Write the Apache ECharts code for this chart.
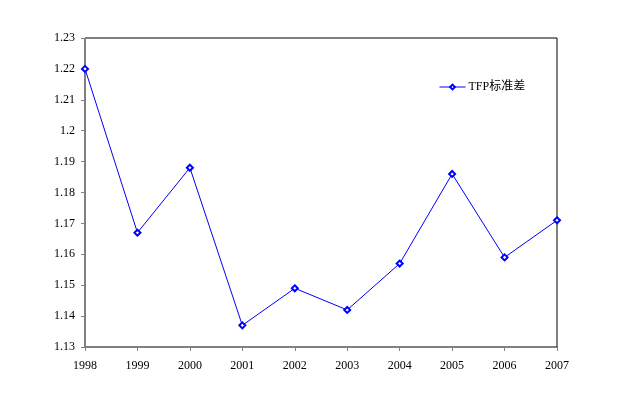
<!DOCTYPE html>
<html><head><meta charset="utf-8">
<script src="https://cdn.jsdelivr.net/npm/echarts@6/dist/echarts.min.js"></script>
<style>html,body{margin:0;padding:0;background:#fff}#c{width:626px;height:406px}</style>
</head><body><div id="c"></div>
<script>
var years = ['1998','1999','2000','2001','2002','2003','2004','2005','2006','2007'];
var tfpStd = [1.22, 1.167, 1.188, 1.137, 1.149, 1.142, 1.157, 1.186, 1.159, 1.171];
var seriesName = 'TFP标准差';
var chart = echarts.init(document.getElementById('c'), null, {renderer:'canvas'});
chart.setOption({
  animation:false,
  backgroundColor:'#fff',
  grid:{left:85,right:69,top:38,bottom:59,show:true,borderColor:'#000',borderWidth:1,backgroundColor:'transparent'},
  legend:{
    show:true,left:434,top:76,itemWidth:26,itemHeight:6,itemGap:4,
    lineStyle:{width:1},
    itemStyle:{borderWidth:1},
    textStyle:{fontFamily:'"Liberation Serif", "Noto Sans CJK SC", serif',fontSize:12,color:'#000',padding:[0,0,0,-2]},
    data:[{name:seriesName}]
  },
  xAxis:{
    type:'category',data:years,boundaryGap:false,
    axisLine:{lineStyle:{color:'#808080',width:1}},
    axisTick:{show:true,alignWithLabel:true,length:4,lineStyle:{color:'#808080'}},
    axisLabel:{color:'#000',fontFamily:'"Liberation Serif", serif',fontSize:12,margin:13},
    splitLine:{show:false}
  },
  yAxis:{
    type:'value',min:1.13,max:1.23,interval:0.01,
    axisLine:{show:true,lineStyle:{color:'#808080',width:1}},
    axisTick:{show:true,length:4,lineStyle:{color:'#808080'}},
    axisLabel:{color:'#000',fontFamily:'"Liberation Serif", serif',fontSize:12,margin:10,
      formatter:function(v){return String(parseFloat(v.toFixed(2)));}},
    splitLine:{show:false}
  },
  series:[{
    name:seriesName,type:'line',data:tfpStd,
    symbol:'emptyDiamond',symbolSize:6,showAllSymbol:true,
    lineStyle:{color:'#0000ff',width:1},
    itemStyle:{color:'#0000ff',borderColor:'#0000ff',borderWidth:1}
  }]
});
</script></body></html>
